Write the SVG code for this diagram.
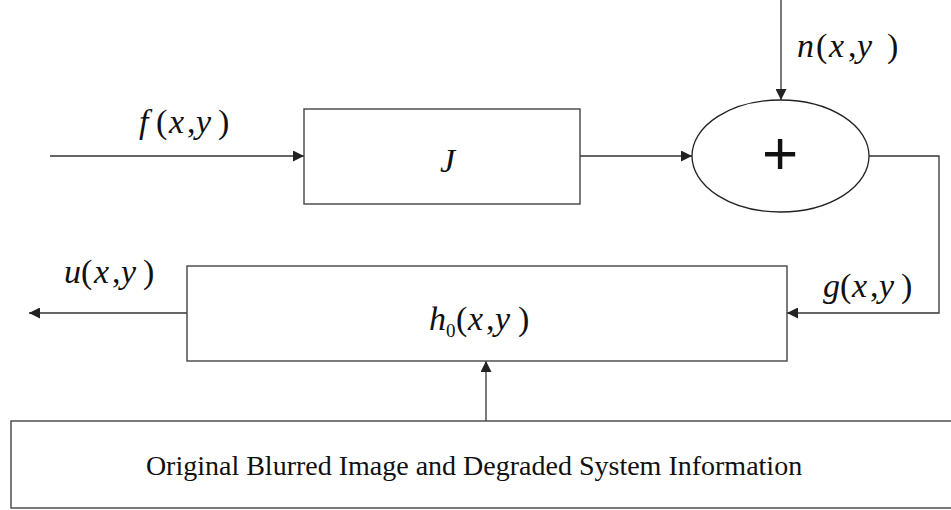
<svg xmlns="http://www.w3.org/2000/svg" width="951" height="510" viewBox="0 0 951 510">
<style>
.box{fill:#fff;stroke:#444;stroke-width:1.4}
.ell{fill:#fff;stroke:#222;stroke-width:1.3}
.wire{fill:none;stroke:#333;stroke-width:1.3}
.m{font-family:"Liberation Serif","Times New Roman",serif;font-size:34px;fill:#111}
.i{font-style:italic}
.t{font-family:"Liberation Serif","Times New Roman",serif;font-size:28px;fill:#111}
.plus{font-family:"Liberation Sans",Arial,sans-serif;font-size:62px;fill:#111}
</style>
<defs>
<marker id="arr" viewBox="0 0 11 11" refX="11" refY="5.5" markerWidth="11" markerHeight="11" orient="auto" markerUnits="userSpaceOnUse">
<path d="M0,0 L11,5.5 L0,11 z" fill="#222"/>
</marker>
</defs>
<g id="connectors">
<path class="wire" d="M50,156 H304" marker-end="url(#arr)"/>
<path class="wire" d="M580,156 H692" marker-end="url(#arr)"/>
<path class="wire" d="M781,0 V100" marker-end="url(#arr)"/>
<path class="wire" d="M869,156 H939 V313 H787" marker-end="url(#arr)"/>
<path class="wire" d="M187,313 H29" marker-end="url(#arr)"/>
<path class="wire" d="M486,421 V361" marker-end="url(#arr)"/>
</g>
<g id="node-J">
<rect class="box" x="304" y="109" width="276" height="95"/>
<text class="m i" x="440" y="172">J</text>
</g>
<g id="node-sum">
<ellipse class="ell" cx="780.5" cy="156" rx="88.5" ry="56"/>
<text class="plus" x="780" y="174" text-anchor="middle">+</text>
</g>
<g id="node-h0">
<rect class="box" x="187" y="266" width="600" height="95"/>
<text class="m" y="330"><tspan class="i" x="429">h</tspan><tspan x="446" y="337" font-size="19">0</tspan><tspan x="456" y="330">(</tspan><tspan class="i" x="468">x</tspan><tspan x="486">,</tspan><tspan class="i" x="495">y</tspan><tspan x="518">)</tspan></text>
</g>
<g id="node-info">
<rect class="box" x="11" y="421" width="945" height="87"/>
<text class="t" x="474" y="475" text-anchor="middle">Original Blurred Image and Degraded System Information</text>
</g>
<g id="labels">
<text class="m" y="133"><tspan class="i" x="139">f</tspan><tspan x="156">(</tspan><tspan class="i" x="169">x</tspan><tspan x="187">,</tspan><tspan class="i" x="196">y</tspan><tspan x="218">)</tspan></text>
<text class="m" y="57" font-size="35"><tspan class="i" x="797">n</tspan><tspan x="816">(</tspan><tspan class="i" x="829">x</tspan><tspan x="848">,</tspan><tspan class="i" x="857">y</tspan><tspan x="887">)</tspan></text>
<text class="m" y="283"><tspan class="i" x="64">u</tspan><tspan x="81">(</tspan><tspan class="i" x="94">x</tspan><tspan x="112">,</tspan><tspan class="i" x="121">y</tspan><tspan x="143">)</tspan></text>
<text class="m" y="297"><tspan class="i" x="823">g</tspan><tspan x="840">(</tspan><tspan class="i" x="852">x</tspan><tspan x="870">,</tspan><tspan class="i" x="879">y</tspan><tspan x="901">)</tspan></text>
</g>
</svg>
